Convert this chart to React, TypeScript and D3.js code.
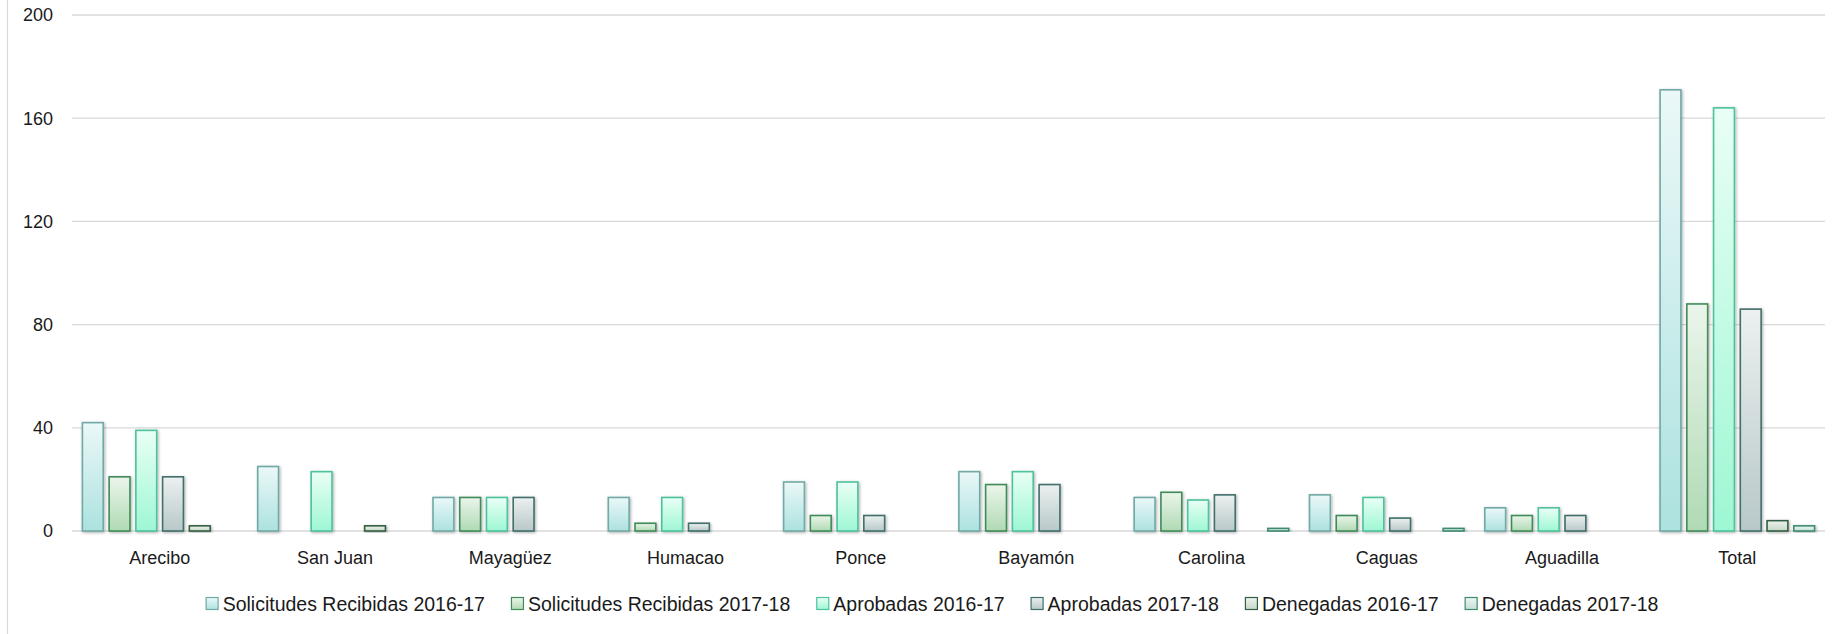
import React, {useRef, useEffect} from "react";
import {select, scaleBand, scaleLinear} from "d3";

const categories = ["Arecibo", "San Juan", "Mayagüez", "Humacao", "Ponce", "Bayamón", "Carolina", "Caguas", "Aguadilla", "Total"];
const seriesNames = [
    "Solicitudes Recibidas 2016-17",
    "Solicitudes Recibidas 2017-18",
    "Aprobadas 2016-17",
    "Aprobadas 2017-18",
    "Denegadas 2016-17",
    "Denegadas 2017-18",
];
const recibidas1617 = [42, 25, 13, 13, 19, 23, 13, 14, 9, 171];
const recibidas1718 = [21, 0, 13, 3, 6, 18, 15, 6, 6, 88];
const aprobadas1617 = [39, 23, 13, 13, 19, 23, 12, 13, 9, 164];
const aprobadas1718 = [21, 0, 13, 3, 6, 18, 14, 5, 6, 86];
const denegadas1617 = [2, 2, 0, 0, 0, 0, 0, 0, 0, 4];
const denegadas1718 = [0, 0, 0, 0, 0, 0, 1, 1, 0, 2];
const yTicks = [0, 40, 80, 120, 160, 200];

const seriesValues = [recibidas1617, recibidas1718, aprobadas1617, aprobadas1718, denegadas1617, denegadas1718];
// top colour, bottom colour, border
const seriesColors = [
    ["#EBF8F8", "#ACE2DF", "#70A9A6"],
    ["#EBF5EB", "#B0DAB4", "#3F8C58"],
    ["#E9FFF5", "#9EF7D4", "#4DC29C"],
    ["#ECF0F0", "#B8C8C8", "#406F6B"],
    ["#EEF3EE", "#C6D7C8", "#335F42"],
    ["#EEF6F3", "#C4DFD5", "#3E8B70"],
];

const W = 1848;
const H = 634;
const font = "'Liberation Sans', Arial, sans-serif";

export default function App() {
    const svgRef = useRef<SVGSVGElement | null>(null);

    useEffect(() => {
        const svg = select(svgRef.current);
        svg.selectAll("*").remove();

        const left = 72;
        const right = 1825;
        const top = 15;
        const bottom = 531;

        const x0 = scaleBand().domain(categories).range([left, right]);
        const groupW = 156;
        const off = (x0.bandwidth() - groupW) / 2;
        const x1 = scaleBand()
            .domain(seriesNames)
            .range([off, off + groupW])
            .paddingInner(0.165);
        const y = scaleLinear().domain([0, 200]).range([bottom, top]);

        const defs = svg.append("defs");
        seriesColors.forEach((c, i) => {
            const g = defs.append("linearGradient")
                .attr("id", `grad${i}`)
                .attr("x1", 0).attr("y1", 0).attr("x2", 0).attr("y2", 1);
            g.append("stop").attr("offset", "0%").attr("stop-color", c[0]);
            g.append("stop").attr("offset", "100%").attr("stop-color", c[1]);
        });
        defs.append("filter")
            .attr("id", "shadow")
            .attr("x", "-20%").attr("y", "-20%").attr("width", "150%").attr("height", "150%")
            .append("feDropShadow")
            .attr("dx", 1).attr("dy", 1).attr("stdDeviation", 1.4)
            .attr("flood-color", "#000").attr("flood-opacity", 0.32);

        // chart frame (left edge only visible)
        svg.append("line")
            .attr("x1", 7.5).attr("x2", 7.5).attr("y1", 0).attr("y2", H)
            .attr("stroke", "#D9D9D9").attr("stroke-width", 1.2);

        // gridlines
        svg.selectAll(".grid")
            .data(yTicks)
            .join("line")
            .attr("class", "grid")
            .attr("x1", left).attr("x2", right)
            .attr("y1", (d) => y(d)).attr("y2", (d) => y(d))
            .attr("stroke", "#D9D9D9").attr("stroke-width", 1.3);

        svg.selectAll(".ytick")
            .data(yTicks)
            .join("text")
            .attr("class", "ytick")
            .attr("x", 53)
            .attr("y", (d) => y(d))
            .attr("dy", "0.35em")
            .attr("text-anchor", "end")
            .attr("font-family", font)
            .attr("font-size", 18)
            .attr("fill", "#1a1a1a")
            .text((d) => d);

        // bars
        seriesValues.forEach((vals, si) => {
            svg.selectAll(`.bar${si}`)
                .data(vals.map((v, ci) => ({v, cat: categories[ci]})).filter((d) => d.v > 0))
                .join("rect")
                .attr("class", `bar${si}`)
                .attr("x", (d) => (x0(d.cat) || 0) + (x1(seriesNames[si]) || 0) + 0.75)
                .attr("width", x1.bandwidth() - 1.5)
                .attr("y", (d) => y(d.v))
                .attr("height", (d) => bottom - y(d.v))
                .attr("fill", `url(#grad${si})`)
                .attr("stroke", seriesColors[si][2])
                .attr("stroke-width", 1.6)
                .attr("filter", "url(#shadow)");
        });

        // category labels
        svg.selectAll(".xlabel")
            .data(categories)
            .join("text")
            .attr("class", "xlabel")
            .attr("x", (d) => (x0(d) || 0) + x0.bandwidth() / 2)
            .attr("y", 558)
            .attr("dy", "0.35em")
            .attr("text-anchor", "middle")
            .attr("font-family", font)
            .attr("font-size", 18)
            .attr("fill", "#1a1a1a")
            .text((d) => d);

        // legend
        const legend = svg.append("g");
        const sq = 13;
        const gapText = 4;
        const gapItem = 26;
        let cx = 0;
        seriesNames.forEach((name, i) => {
            const item = legend.append("g").attr("transform", `translate(${cx},0)`);
            item.append("rect")
                .attr("x", 0.5).attr("y", -sq / 2)
                .attr("width", sq - 1).attr("height", sq - 1)
                .attr("fill", `url(#grad${i})`)
                .attr("stroke", seriesColors[i][2])
                .attr("stroke-width", 1.2);
            const t = item.append("text")
                .attr("x", sq + gapText)
                .attr("y", 0)
                .attr("dy", "0.35em")
                .attr("font-family", font)
                .attr("font-size", 19.5)
                .attr("fill", "#1a1a1a")
                .text(name);
            const tw = (t.node() as SVGTextElement).getComputedTextLength();
            cx += sq + gapText + tw + gapItem;
        });
        const total = cx - gapItem;
        legend.attr("transform", `translate(${932 - total / 2},604)`);
    }, []);

    return (
        <svg
            ref={svgRef}
            width={W}
            height={H}
            style={{position: "absolute", left: 0, top: 0, background: "#fff"}}
        ></svg>
    );
}
